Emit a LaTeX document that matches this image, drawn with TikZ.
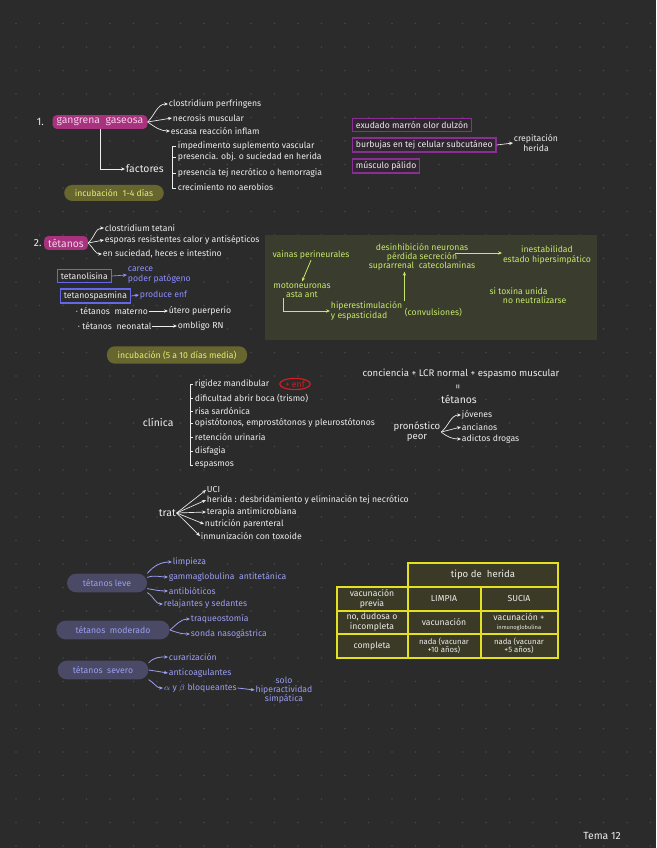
\documentclass[tikz,border=0pt]{standalone}
\usepackage{fontspec}
\setmainfont{Fira Sans}
\usetikzlibrary{arrows.meta,shapes.geometric}
\definecolor{bgc}{HTML}{2B2B2B}
\definecolor{dotc}{HTML}{474747}
\definecolor{ink}{HTML}{EDEDED}
\definecolor{magc}{HTML}{A8327E}
\definecolor{magt}{HTML}{F6CFEA}
\definecolor{olivef}{HTML}{66662E}
\definecolor{olivet}{HTML}{E3EE78}
\definecolor{purc}{HTML}{8A2E96}
\definecolor{purf}{HTML}{302630}
\definecolor{bluec}{HTML}{6468E6}
\definecolor{bluet}{HTML}{8C8EFF}
\definecolor{greenf}{HTML}{3A3C2E}
\definecolor{greent}{HTML}{C6E86A}
\definecolor{redc}{HTML}{D01E22}
\definecolor{lavf}{HTML}{4A4A66}
\definecolor{lavt}{HTML}{9C9EF2}
\definecolor{tabf}{HTML}{3A3A26}
\definecolor{tabl}{HTML}{E4E022}
\newcommand{\hand}{\fontsize{6.5}{7}\selectfont}
\newcommand{\handb}{\fontsize{7.8}{8.4}\selectfont}
\tikzset{
  txt/.style={text=ink,font=\hand,inner sep=0.5pt,anchor=west,align=left},
  ctxt/.style={text=ink,font=\hand,inner sep=0.5pt,align=center},
  arr/.style={->,draw=ink,line width=0.5pt},
  magbox/.style={fill=magc,text=magt,font=\handb,rounded corners=3pt,inner xsep=3pt,inner ysep=2pt},
  pill/.style={fill=olivef,text=olivet,font=\hand,rounded corners=6pt,minimum height=12pt,inner xsep=8pt},
  purbox/.style={draw=purc,fill=purf,line width=0.9pt,text=ink,font=\hand,inner xsep=2.5pt,inner ysep=2pt,anchor=west},
  bluebox/.style={draw=bluec,line width=0.8pt,text=ink,font=\hand,inner xsep=2.5pt,inner ysep=2pt,anchor=west},
  bluetxt/.style={text=bluet,font=\hand,inner sep=0.5pt,anchor=west,align=left},
  bluearr/.style={->,draw=bluet,line width=0.5pt},
  gtxt/.style={text=greent,font=\hand,inner sep=0.5pt,align=center},
  garr/.style={->,draw=greent,line width=0.6pt},
  lavbox/.style={fill=lavf,text=lavt,font=\hand,rounded corners=7pt,minimum height=14pt},
  lavtxt/.style={text=lavt,font=\hand,inner sep=0.5pt,anchor=west,align=left},
  lavarr/.style={->,draw=lavt,line width=0.6pt},
  tabtxt/.style={text=ink,font=\hand,inner sep=0.5pt,align=center}
}

\begin{document}
\begin{tikzpicture}[x=0.75pt,y=-0.75pt,>={Stealth[length=3pt,width=2.5pt]}]
  % page and dot grid
  \fill[bgc] (0,0) rectangle (656,848);
  \useasboundingbox (0,0) rectangle (656,848);
  \foreach \i in {0,...,27} {
    \foreach \j in {0,...,35} {
      \fill[dotc] (16+23.5*\i,23.5+23.5*\j) circle (0.8);
    }
  }

  % 1. gangrena gaseosa
  \node[txt,font=\handb] (n1) at (36,122) {1.};
  \node[magbox] (gang) at (100,122) {gangrena\ \ gaseosa};
  \node[txt] (g1) at (168,104) {clostridium perfringens};
  \node[txt] (g2) at (172,118) {necrosis muscular};
  \node[txt] (g3) at (170,131) {escasa reacción inflam};
  \draw[arr] (gang.east) to[out=45,in=180] (g1.west);
  \draw[arr] (gang.east) -- (g2.west);
  \draw[arr] (gang.east) to[out=-35,in=180] (g3.west);
  \node[txt,font=\handb] (fact) at (125,169) {factores};
  \draw[arr] (gang.south) |- (fact.west);
  \draw[ink,line width=0.5pt] (176,146) -- (172,146) -- (172,188) -- (176,188)
    (172,157) -- (176,157) (172,173) -- (176,173);
  \node[txt] (f1) at (177,146) {impedimento suplemento vascular};
  \node[txt] (f2) at (177,157) {presencia. obj. o suciedad en herida};
  \node[txt] (f3) at (177,173) {presencia tej necrótico o hemorragia};
  \node[txt] (f4) at (177,187) {crecimiento no aerobios};
  \node[pill] (inc1) at (114,193) {incubación\ \ 1-4 días};

  % exudado
  \node[purbox] (ex1) at (352,125) {exudado marrón\ olor dulzón};
  \node[purbox] (ex2) at (352,145) {burbujas en tej celular subcutáneo};
  \node[purbox] (ex3) at (352,166) {músculo pálido};
  \node[ctxt] (crep) at (536,143) {crepitación\\herida};
  \draw[arr] (ex2.east) -- (crep.west);

  % 2. tetanos
  \node[txt,font=\handb] (n2) at (33,243) {2.};
  \node[magbox] (tet) at (66,243) {tétanos};
  \node[txt] (t1) at (104,228) {clostridium tetani};
  \node[txt] (t2) at (104,240) {esporas resistentes calor y antisépticos};
  \node[txt] (t3) at (102,254) {en suciedad, heces e intestino};
  \draw[arr] (tet.east) to[out=40,in=180] (t1.west);
  \draw[arr] (tet.east) -- (t2.west);
  \draw[arr] (tet.east) to[out=-40,in=180] (t3.west);
  \node[bluebox] (lis) at (57,276) {tetanolisina};
  \node[bluetxt] (lis2) at (127,275) {carece\\poder patógeno};
  \draw[bluearr] (lis.east) -- (lis2.west);
  \node[bluebox] (spa) at (60,296) {tetanospasmina};
  \node[bluetxt] (spa2) at (139,295) {produce enf};
  \draw[bluearr] (spa.east) -- (spa2.west);
  \node[txt] (mat) at (75,311) {· tétanos\ \ materno};
  \node[txt] (mat2) at (168,311) {útero puerperio};
  \draw[arr] (mat.east) -- (mat2.west);
  \node[txt] (neo) at (77,326) {· tétanos\ \ neonatal};
  \node[txt] (neo2) at (177,326) {ombligo RN};
  \draw[arr] (neo.east) -- (neo2.west);

  % mecanismo
  \fill[greenf] (265,235) rectangle (597,340);
  \node[gtxt] (vp) at (311,255) {vainas perineurales};
  \node[gtxt] (mot) at (302,290) {motoneuronas\\asta ant};
  \node[gtxt,anchor=west,align=left] (hip) at (330,311) {hiperestimulación\\y espasticidad};
  \node[gtxt,anchor=west] (conv) at (404,312) {(convulsiones)};
  \node[gtxt] (des) at (422,257) {desinhibición neuronas\\pérdida secreción\\suprarrenal\ \ catecolaminas};
  \node[gtxt] (ines) at (547,255) {inestabilidad\\estado hipersimpático};
  \node[gtxt,align=left] (sitox) at (528,296) {si toxina unida\\\hspace*{10pt}no neutralizarse};
  \draw[garr] (vp.south) -- (mot.north);
  \draw[garr] ([xshift=-14pt]mot.south) |- (hip.west);
  \draw[garr] ([xshift=1pt]hip.north east) -- ([xshift=1pt]hip.north east |- des.south);
  \draw[garr] ([shift={(-16pt,3pt)}]des.east) -- ([yshift=3pt]des.east -| ines.west);
  \node[pill] (inc2) at (177,355) {incubación (5 a 10 días media)};

  % clinica
  \node[txt,font=\handb] (cli) at (142,422) {clínica};
  \draw[ink,line width=0.5pt] (193,384) -- (190,384) -- (190,465) -- (193,465)
    (190,398) -- (193,398) (190,411) -- (193,411) (190,423) -- (193,423)
    (190,437) -- (193,437) (190,451) -- (193,451);
  \node[txt] (c1) at (194,384) {rigidez mandibular};
  \node[draw=redc,line width=0.9pt,ellipse,text=redc,font=\hand,inner sep=0.5pt,minimum width=23pt] (enf) at (295,384) {+ enf};
  \node[txt] (c2) at (194,398) {dificultad abrir boca (trismo)};
  \node[txt] (c3) at (194,411) {risa sardónica};
  \node[txt] (c4) at (194,423) {opistótonos, emprostótonos y pleurostótonos};
  \node[txt] (c5) at (194,437) {retención urinaria};
  \node[txt] (c6) at (194,451) {disfagia};
  \node[txt] (c7) at (194,465) {espasmos};

  % diagnostico
  \node[ctxt,font=\fontsize{7.2}{8}\selectfont] (conc) at (461,374) {conciencia + LCR normal + espasmo muscular};
  \node[ctxt,font=\handb,rotate=90] (eq) at (459,387) {=};
  \node[ctxt,font=\handb] (tetd) at (459,399) {tétanos};
  \node[ctxt,font=\fontsize{7.2}{7.4}\selectfont] (pron) at (417,432) {pronóstico\\peor};
  \node[txt] (j1) at (461,415) {jóvenes};
  \node[txt] (j2) at (461,427) {ancianos};
  \node[txt] (j3) at (461,439) {adictos drogas};
  \draw[arr] (pron.east) to[out=40,in=180] (j1.west);
  \draw[arr] (pron.east) -- (j2.west);
  \draw[arr] (pron.east) to[out=-40,in=180] (j3.west);

  % tratamiento
  \node[txt,font=\handb] (trat) at (158,513) {trat};
  \node[txt] (r1) at (206,490) {UCI};
  \node[txt] (r2) at (206,500) {herida : desbridamiento y eliminación tej necrótico};
  \node[txt] (r3) at (206,512) {terapia antimicrobiana};
  \node[txt] (r4) at (204,524) {nutrición parenteral};
  \node[txt] (r5) at (200,536) {inmunización con toxoide};
  \foreach \r in {r1,r2,r3,r4,r5} {
    \draw[arr] (trat.east) -- (\r.west);
  }

  % gravedad
  \node[lavbox,minimum width=60pt] (lev) at (107,583) {tétanos leve};
  \node[lavtxt] (l1) at (172,562) {limpieza};
  \node[lavtxt] (l2) at (168,577) {gammaglobulina\ \ antitetánica};
  \node[lavtxt] (l3) at (168,591) {antibióticos};
  \node[lavtxt] (l4) at (163,604) {relajantes y sedantes};
  \draw[lavarr] (lev.north east) to[out=50,in=180] (l1.west);
  \draw[lavarr] ([yshift=-3pt]lev.north east) to[out=20,in=180] (l2.west);
  \draw[lavarr] ([yshift=3pt]lev.south east) to[out=-10,in=180] (l3.west);
  \draw[lavarr] (lev.south east) to[out=-30,in=180] (l4.west);
  \node[lavbox,minimum width=85pt] (mod) at (113,630) {tétanos\ \ moderado};
  \node[lavtxt] (m1) at (190,619) {traqueostomía};
  \node[lavtxt] (m2) at (190,634) {sonda nasogástrica};
  \draw[lavarr] (mod.east) to[out=40,in=180] (m1.west);
  \draw[lavarr] (mod.east) to[out=-20,in=180] (m2.west);
  \node[lavbox,minimum width=68pt] (sev) at (103,670) {tétanos\ \ severo};
  \node[lavtxt] (s1) at (168,657) {curarización};
  \node[lavtxt] (s2) at (168,673) {anticoagulantes};
  \node[lavtxt] (s3) at (163,688) {$\alpha$ y $\beta$ bloqueantes};
  \node[text=lavt,font=\hand,inner sep=0.5pt,align=center] (s4) at (284,690) {solo\\hiperactividad\\simpática};
  \draw[lavarr] ([yshift=-2pt]sev.north east) to[out=50,in=180] (s1.west);
  \draw[lavarr] (sev.east) -- (s2.west);
  \draw[lavarr] (sev.south east) to[out=-30,in=180] (s3.west);
  \draw[lavarr] (s3.east) -- (s4.west);

  % tabla
  \fill[tabf] (408,563) rectangle (558,587) (337,587) rectangle (558,658);
  \draw[tabl,line width=1pt] (408,587) -- (408,563) -- (558,563) -- (558,658) -- (337,658) -- (337,587) -- (558,587)
    (337,611) -- (558,611) (337,634) -- (558,634)
    (408,587) -- (408,658) (481,587) -- (481,658);
  \node[tabtxt,font=\fontsize{7.2}{8}\selectfont] (hd) at (483,575) {tipo\ de\ \ herida};
  \node[tabtxt] (a1) at (372,599) {vacunación\\previa};
  \node[tabtxt] (a2) at (444,599) {LIMPIA};
  \node[tabtxt] (a3) at (519,599) {SUCIA};
  \node[tabtxt] (b1) at (372,622) {no, dudosa o\\incompleta};
  \node[tabtxt] (b2) at (444,622) {vacunación};
  \node[tabtxt] (b3) at (519,622) {vacunación +\\{\fontsize{4.3}{4.8}\selectfont inmunoglobulina}};
  \node[tabtxt] (d1) at (372,646) {completa};
  \node[tabtxt,font=\fontsize{5.8}{6.2}\selectfont] (d2) at (444,646) {nada (vacunar\\+10 años)};
  \node[tabtxt,font=\fontsize{5.8}{6.2}\selectfont] (d3) at (519,646) {nada (vacunar\\+5 años)};

  \node[ctxt,font=\handb] (tema) at (602,836) {Tema 12};
\end{tikzpicture}
\end{document}
